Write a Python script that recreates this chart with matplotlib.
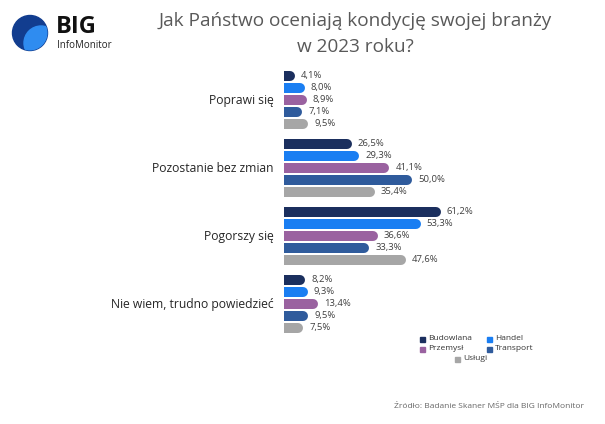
import numpy as np
import matplotlib
matplotlib.use('Agg')
import matplotlib.pyplot as plt
from matplotlib.patches import Circle

plt.rcParams['font.family'] = ['Open Sans', 'DejaVu Sans']

# data
answers = ['Poprawi się', 'Pozostanie bez zmian', 'Pogorszy się', 'Nie wiem, trudno powiedzieć']
sectors = ['Budowlana', 'Handel', 'Przemysł', 'Transport', 'Usługi']
budowlana = [4.1, 26.5, 61.2, 8.2]
handel = [8.0, 29.3, 53.3, 9.3]
przemysl = [8.9, 41.1, 36.6, 13.4]
transport = [7.1, 50.0, 33.3, 9.5]
uslugi = [9.5, 35.4, 47.6, 7.5]
series = [budowlana, handel, przemysl, transport, uslugi]
colors = ['#1b2f5e', '#1a7ef2', '#9a62a0', '#2f5b9c', '#a6a6a6']

W, H = 605, 424
fig = plt.figure(figsize=(W / 100, H / 100), dpi=100)
fig.patch.set_facecolor('white')

# axes placed in pixel terms: x from 284px, 2.565 px per percent
px_per = 2.565
ax = fig.add_axes([284 / W, 1 - 350 / H, 100 * px_per / W, 290 / H])
ax.set_xlim(0, 100)
ax.set_ylim(350, 60)
ax.axis('off')

bar_h = 10  # px
cap = (bar_h / 2) / px_per
for g, ans in enumerate(answers):
    y0 = 76 + 68 * g
    for j, vals in enumerate(series):
        y = y0 + 12.1 * j
        v = vals[g]
        ax.plot([-5, v - cap], [y, y], color=colors[j], lw=bar_h * 0.72,
                solid_capstyle='round', clip_on=True)
        ax.text(v + 6 / px_per, y - 0.5, f'{v:.1f}%'.replace('.', ','),
                fontsize=6.8, color='#404040', va='center', ha='left')
    ax.text(-10 / px_per, y0 + 12.1 * 2, ans, fontsize=8.7, color='#262626',
            ha='right', va='center')

# title
fig.text(355 / W, 1 - 21 / H, 'Jak Państwo oceniają kondycję swojej branży',
         fontsize=13.7, color='#595959', ha='center', va='center')
fig.text(355 / W, 1 - 47 / H, 'w 2023 roku?', fontsize=13.7, color='#595959',
         ha='center', va='center')

# logo
lax = fig.add_axes([0, 1 - 60 / H, 60 / W, 60 / H])
lax.set_xlim(0, 60)
lax.set_ylim(60, 0)
lax.set_aspect('equal')
lax.axis('off')
outer = Circle((30, 33), 17.5, color='#123d8f')
lax.add_patch(outer)
inner = Circle((41, 43), 17, color='#2f8cf0')
lax.add_patch(inner)
inner.set_clip_path(outer)
fig.text(56 / W, 1 - 27 / H, 'BIG', fontsize=17, fontweight='bold', color='#111111',
         ha='left', va='center')
fig.text(57 / W, 1 - 45 / H, 'InfoMonitor', fontsize=7, color='#222222',
         ha='left', va='center')

# legend
leg_pos = [(422, 339), (489, 339), (422, 349), (489, 349), (457, 359)]
for (lx, ly), name, c in zip(leg_pos, sectors, colors):
    fig.patches.append(plt.Rectangle(((lx - 2.5) / W, 1 - (ly + 2.5) / H), 5 / W, 5 / H,
                                     transform=fig.transFigure, color=c))
    fig.text((lx + 6) / W, 1 - ly / H, name, fontsize=6, color='#333333',
             ha='left', va='center')

# source
fig.text(584 / W, 1 - 407 / H, 'Źródło: Badanie Skaner MŚP dla BIG InfoMonitor',
         fontsize=6, color='#666666', ha='right', va='center')

fig.savefig('out.png', dpi=100, facecolor='white')
